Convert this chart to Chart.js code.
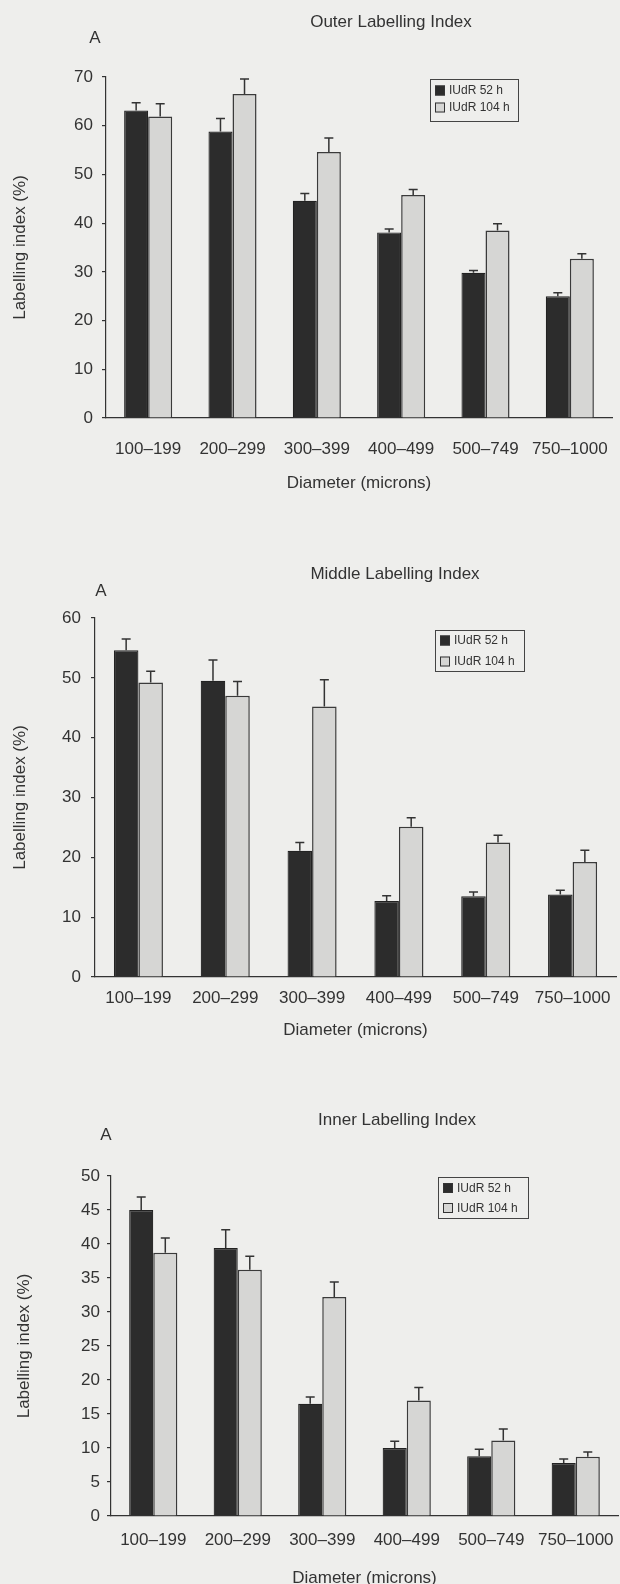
<!DOCTYPE html>
<html><head><meta charset="utf-8">
<script src="https://cdn.jsdelivr.net/npm/chart.js@4.4.1/dist/chart.umd.min.js"></script>
<style>
html,body{margin:0;padding:0;background:#eeeeec;overflow:hidden;width:620px;height:1584px;}
body{position:relative;}
canvas{position:absolute;left:0;display:block;}
</style></head><body>
<canvas id="c1" width="620" height="500" style="top:0px"></canvas>
<canvas id="c2" width="620" height="510" style="top:540px"></canvas>
<canvas id="c3" width="620" height="510" style="top:1090px"></canvas>
<script>
// ---- data ----
const categories = ['100–199','200–299','300–399','400–499','500–749','750–1000'];
const seriesLabels = ['IUdR 52 h','IUdR 104 h'];
const chartTitles = ['Outer Labelling Index','Middle Labelling Index','Inner Labelling Index'];
const xAxisTitle = 'Diameter (microns)';
const yAxisTitle = 'Labelling index (%)';
const panelLetter = 'A';

const outer52     = [63.1, 58.8, 44.6, 38.1, 29.8, 25.0];
const outer52Err  = [1.6, 2.7, 1.5, 0.7, 0.5, 0.7];
const outer104    = [61.9, 66.5, 54.6, 45.8, 38.5, 32.7];
const outer104Err = [2.6, 3.1, 2.9, 1.1, 1.4, 1.0];

const middle52     = [54.6, 49.5, 21.1, 12.7, 13.5, 13.8];
const middle52Err  = [1.9, 3.5, 1.4, 0.9, 0.7, 0.7];
const middle104    = [49.2, 47.0, 45.2, 25.1, 22.5, 19.2];
const middle104Err = [1.9, 2.4, 4.5, 1.5, 1.2, 2.0];

const inner52     = [45.0, 39.4, 16.5, 10.0, 8.8, 7.8];
const inner52Err  = [1.9, 2.7, 1.0, 1.0, 1.0, 0.6];
const inner104    = [38.7, 36.2, 32.2, 17.0, 11.1, 8.7];
const inner104Err = [2.2, 2.0, 2.2, 1.9, 1.7, 0.7];

const outerTicks  = {max: 70, step: 10};
const middleTicks = {max: 60, step: 10};
const innerTicks  = {max: 50, step: 5};

// ---- styles ----
const FONT = "'Liberation Sans', Arial, Helvetica, sans-serif";
const INK = '#333';
const DARK = '#2c2c2c';
const LIGHT = '#d6d6d4';

const errorBars = {
  id: 'errorBars',
  afterDatasetsDraw(chart) {
    const ctx = chart.ctx, ys = chart.scales.y;
    ctx.save();
    ctx.strokeStyle = INK; ctx.lineWidth = 1.5;
    chart.data.datasets.forEach((ds, i) => {
      const meta = chart.getDatasetMeta(i);
      meta.data.forEach((bar, j) => {
        const top = ys.getPixelForValue(ds.data[j] + ds.errors[j]);
        ctx.beginPath();
        ctx.moveTo(bar.x, bar.y); ctx.lineTo(bar.x, top);
        ctx.moveTo(bar.x - 4.5, top); ctx.lineTo(bar.x + 4.5, top);
        ctx.stroke();
      });
    });
    ctx.restore();
  }
};

const decorations = {
  id: 'decorations',
  afterDraw(chart, args, o) {
    const ctx = chart.ctx;
    ctx.save();
    ctx.fillStyle = INK;
    ctx.font = '17px ' + FONT;
    ctx.textAlign = 'center'; ctx.textBaseline = 'middle';
    ctx.fillText(o.title, o.titleX, o.titleY);
    ctx.fillText(panelLetter, o.aX, o.aY);
    // legend box
    const b = o.box;
    ctx.strokeStyle = '#444'; ctx.lineWidth = 1;
    ctx.strokeRect(b.x + 0.5, b.y + 0.5, b.w, b.h);
    ctx.font = '12px ' + FONT;
    ctx.textAlign = 'left';
    chart.data.datasets.forEach((ds, i) => {
      const ry = b.rows[i];
      ctx.fillStyle = ds.backgroundColor;
      ctx.fillRect(b.x + 5, ry - 5, 10, 10);
      ctx.strokeStyle = '#333';
      ctx.strokeRect(b.x + 5.5, ry - 4.5, 9, 9);
      ctx.fillStyle = INK;
      ctx.fillText(ds.label, b.x + 19, ry + 0.5);
    });
    ctx.restore();
  }
};

function makeChart(id, c) {
  const cv = document.getElementById(id);
  const H = cv.height, W = cv.width;
  return new Chart(cv, {
    type: 'bar',
    data: {
      labels: categories,
      datasets: [
        {label: seriesLabels[0], data: c.d1, errors: c.e1, backgroundColor: DARK, borderColor: '#222', borderWidth: 1.2},
        {label: seriesLabels[1], data: c.d2, errors: c.e2, backgroundColor: LIGHT, borderColor: '#3a3a3a', borderWidth: 1.5}
      ]
    },
    options: {
      responsive: false, animation: false, devicePixelRatio: 1,
      datasets: {bar: {barPercentage: 1.0, categoryPercentage: c.catPct}},
      layout: {padding: {top: c.areaTop, left: 0, right: W - c.right, bottom: 0}},
      plugins: {
        legend: {display: false}, title: {display: false}, tooltip: {enabled: false},
        decorations: c.deco
      },
      scales: {
        x: {
          offset: true,
          grid: {display: false, drawTicks: false},
          border: {display: true, color: INK, width: 1.2},
          ticks: {font: {family: FONT, size: 17}, color: INK, padding: c.xTickPad, maxRotation: 0, autoSkip: false},
          title: {display: true, text: xAxisTitle, font: {family: FONT, size: 17}, color: INK, padding: {top: 0, bottom: c.xTitlePad}},
          afterFit(s) { s.height = H - c.areaBottom; s.paddingLeft = 0; s.paddingRight = 0; }
        },
        y: {
          min: 0, max: c.ticks.max,
          grid: {display: true, drawOnChartArea: false, drawTicks: true, tickLength: 4, color: INK, lineWidth: 1.2},
          border: {display: true, color: INK, width: 1.2},
          ticks: {stepSize: c.ticks.step, font: {family: FONT, size: 17}, color: INK, padding: c.yTickPad},
          title: {display: true, text: yAxisTitle, font: {family: FONT, size: 17}, color: INK, padding: {top: c.yTitlePad, bottom: 0}},
          afterFit(s) { s.width = c.axisX; s.paddingTop = 0; s.paddingBottom = 0; }
        }
      }
    },
    plugins: [errorBars, decorations]
  });
}

makeChart('c1', {
  d1: outer52, e1: outer52Err, d2: outer104, e2: outer104Err, ticks: outerTicks,
  catPct: 0.57, areaTop: 77, areaBottom: 418, axisX: 106, right: 612,
  xTickPad: 21, xTitlePad: 6, yTickPad: 9, yTitlePad: 10,
  deco: {title: chartTitles[0], titleX: 391, titleY: 22, aX: 95, aY: 38,
         box: {x: 430, y: 79, w: 88, h: 42, rows: [90.5, 107.5]}}
});
makeChart('c2', {
  d1: middle52, e1: middle52Err, d2: middle104, e2: middle104Err, ticks: middleTicks,
  catPct: 0.565, areaTop: 78, areaBottom: 437, axisX: 95, right: 616,
  xTickPad: 11, xTitlePad: 9, yTickPad: 10, yTitlePad: 10,
  deco: {title: chartTitles[1], titleX: 395, titleY: 34, aX: 101, aY: 51,
         box: {x: 435, y: 90, w: 89, h: 41, rows: [100.5, 121.5]}}
});
makeChart('c3', {
  d1: inner52, e1: inner52Err, d2: inner104, e2: inner104Err, ticks: innerTicks,
  catPct: 0.57, areaTop: 86, areaBottom: 426, axisX: 111, right: 618,
  xTickPad: 14, xTitlePad: 11, yTickPad: 7, yTitlePad: 14,
  deco: {title: chartTitles[2], titleX: 397, titleY: 30.5, aX: 106, aY: 45,
         box: {x: 438, y: 87, w: 90, h: 41, rows: [98, 118]}}
});
</script>
</body></html>
